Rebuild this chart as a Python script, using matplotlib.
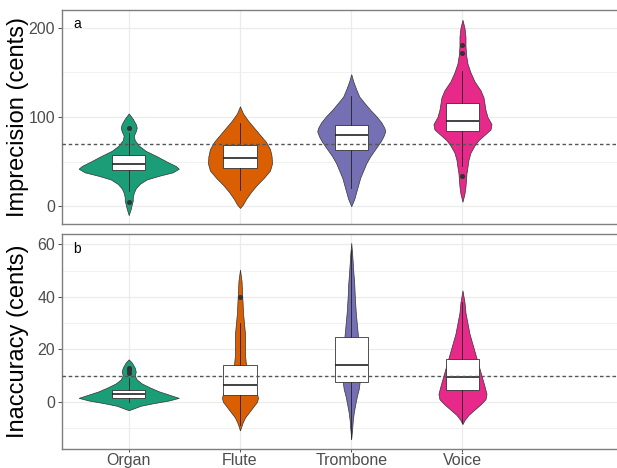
import numpy as np
import matplotlib
matplotlib.use("Agg")
import matplotlib.pyplot as plt

plt.rcParams['font.family'] = ['Liberation Sans', 'DejaVu Sans']

categories = ["Organ", "Flute", "Trombone", "Voice"]
colors = ["#1B9E77", "#D95F02", "#7570B3", "#E7298A"]

# ---- Panel a: Imprecision (cents) ----
# violin profiles: y values and half-widths (in category units)
a_organ_y = [104, 98, 92, 88, 84, 79, 74, 68, 62, 56, 50, 45, 42, 38, 34, 30, 25, 20, 15, 10, 6, 2, -3, -10]
a_organ_w = [0, .036, .063, .072, .063, .045, .054, .09, .153, .252, .342, .423, .45, .396, .27, .162, .099, .063, .045, .036, .036, .027, .018, 0]
a_flute_y = [112, 104, 96, 88, 80, 72, 64, 56, 48, 40, 32, 24, 16, 8, 2, -2]
a_flute_w = [0, .027, .072, .126, .18, .234, .27, .284, .288, .27, .216, .153, .099, .054, .027, 0]
a_tromb_y = [148, 140, 131, 123, 116, 108, 101, 94, 88, 84, 78, 72, 64, 56, 48, 40, 32, 24, 16, 8, 0]
a_tromb_w = [0, .018, .045, .072, .117, .171, .225, .27, .297, .306, .288, .261, .216, .171, .135, .108, .081, .063, .045, .027, 0]
a_voice_y = [209, 200, 190, 180, 170, 160, 150, 140, 130, 122, 115, 108, 100, 92, 86, 80, 74, 68, 60, 52, 44, 37, 30, 22, 14, 5]
a_voice_w = [0, .018, .027, .027, .032, .045, .072, .108, .162, .189, .198, .207, .225, .261, .252, .198, .144, .108, .072, .054, .045, .036, .032, .027, .018, 0]

a_q1 = [40.8, 42.7, 63, 84]
a_med = [47.5, 53.5, 80, 95]
a_q3 = [57.6, 69, 91.3, 116]
a_whislo = [17, 18, 20, 45]
a_whishi = [82, 93, 124, 152]
a_fliers = [[88, 5], [], [], [181, 172, 34]]
a_ref = 70

# ---- Panel b: Inaccuracy (cents) ----
b_organ_y = [16.2, 15, 13, 11.5, 10, 8.5, 7, 5.5, 4, 2.5, 1.5, 0.5, -0.5, -1.5, -2.5, -3.2]
b_organ_w = [0, .027, .054, .063, .054, .072, .117, .189, .27, .378, .45, .36, .225, .108, .045, 0]
b_flute_y = [50.4, 46, 42, 38, 34, 30, 26, 22, 18, 14, 10, 6, 3, 1.5, 0, -2, -4, -6, -8, -10.9]
b_flute_w = [0, .014, .018, .023, .027, .036, .045, .045, .045, .054, .072, .108, .153, .162, .153, .117, .081, .045, .023, 0]
b_tromb_y = [60.6, 56, 50, 45, 40, 34, 28, 24, 20, 14, 8, 5, 2, -1, -4, -7, -10, -14]
b_tromb_w = [0, .009, .018, .027, .032, .041, .054, .063, .072, .081, .077, .068, .05, .036, .023, .014, .009, 0]
b_voice_y = [42.5, 38, 34, 30, 26, 22, 18, 14, 10, 6, 3, 1, -1, -3, -5, -7, -8.5]
b_voice_w = [0, .018, .027, .045, .063, .09, .117, .144, .171, .198, .216, .207, .162, .108, .054, .018, 0]

b_q1 = [1.3, 2.6, 7.7, 4.5]
b_med = [2.9, 6.4, 14, 9.3]
b_q3 = [4.5, 14, 24.9, 16.2]
b_whislo = [0, -9, -14, -8]
b_whishi = [9, 30, 58, 38]
b_fliers = [[11, 12, 13], [40], [], []]
b_ref = 10

fig = plt.figure(figsize=(6.17, 4.68), dpi=100)
ax_a = fig.add_axes([62/617, 1-224/468, 1.02-62/617, 214/468])
ax_b = fig.add_axes([62/617, 1-449/468, 1.02-62/617, 215/468])

def draw_panel(ax, profiles, q1, med, q3, wlo, whi, fliers, ref, ylim, major, minor, ylabel, tag, show_x):
    pos = np.arange(1, len(categories) + 1)
    for i, (yy, ww) in enumerate(profiles):
        yy = np.asarray(yy, float); ww = np.asarray(ww, float)
        ax.fill_betweenx(yy, pos[i] - ww, pos[i] + ww, facecolor=colors[i],
                         edgecolor="#333333", linewidth=0.5, zorder=2)
    stats = []
    for i in range(len(categories)):
        stats.append(dict(med=med[i], q1=q1[i], q3=q3[i], whislo=wlo[i], whishi=whi[i],
                          fliers=fliers[i]))
    ax.bxp(stats, positions=pos, widths=0.3, showcaps=False, patch_artist=True,
           boxprops=dict(facecolor="white", edgecolor="#333333", linewidth=0.6),
           medianprops=dict(color="#222222", linewidth=1.2),
           whiskerprops=dict(color="#222222", linewidth=0.6),
           flierprops=dict(marker="o", markersize=2.6, markerfacecolor="#333333",
                           markeredgecolor="#333333"),
           zorder=3, manage_ticks=False)
    ax.axhline(ref, color="#555555", linestyle=(0, (2.5, 2)), linewidth=1.0, zorder=4)
    ax.set_xlim(0.4, 5.5)
    ax.set_ylim(*ylim)
    ax.set_yticks(major)
    ax.set_yticks(minor, minor=True)
    ax.set_xticks(pos)
    ax.grid(True, which="major", color="#EBEBEB", linewidth=0.9, zorder=0)
    ax.grid(True, which="minor", axis="y", color="#EBEBEB", linewidth=0.5, zorder=0)
    ax.set_axisbelow(True)
    ax.tick_params(axis="y", which="major", labelsize=11.5, labelcolor="#4D4D4D",
                   color="#333333", length=3, width=0.6, pad=2)
    ax.tick_params(axis="y", which="minor", length=0)
    if show_x:
        ax.set_xticklabels(categories)
        ax.tick_params(axis="x", labelsize=11.5, labelcolor="#4D4D4D", color="#333333",
                       length=2, width=0.6, pad=1)
    else:
        ax.tick_params(axis="x", length=0, labelbottom=False)
    for s in ax.spines.values():
        s.set_color("#7F7F7F")
        s.set_linewidth(1.0)
    ax.set_ylabel(ylabel, fontsize=17, color="black")
    ax.text(0.02, 0.965, tag, transform=ax.transAxes, fontsize=10, va="top", ha="left")

draw_panel(ax_a, [(a_organ_y, a_organ_w), (a_flute_y, a_flute_w), (a_tromb_y, a_tromb_w), (a_voice_y, a_voice_w)],
           a_q1, a_med, a_q3, a_whislo, a_whishi, a_fliers, a_ref, (-20, 220),
           [0, 100, 200], [50, 150], "Imprecision (cents)", "a", False)
draw_panel(ax_b, [(b_organ_y, b_organ_w), (b_flute_y, b_flute_w), (b_tromb_y, b_tromb_w), (b_voice_y, b_voice_w)],
           b_q1, b_med, b_q3, b_whislo, b_whishi, b_fliers, b_ref, (-18, 64),
           [0, 20, 40, 60], [-10, 10, 30, 50], "Inaccuracy (cents)", "b", True)

# y-axis titles centred at about x = 18 px
lab_x = (18 - 62) / (1.02 * 617 - 62)
ax_a.yaxis.set_label_coords(lab_x, 0.5)
ax_b.yaxis.set_label_coords(lab_x, 0.5)
ax_a.yaxis.label.set_va("center")
ax_b.yaxis.label.set_va("center")

fig.savefig("out.png", dpi=100)
